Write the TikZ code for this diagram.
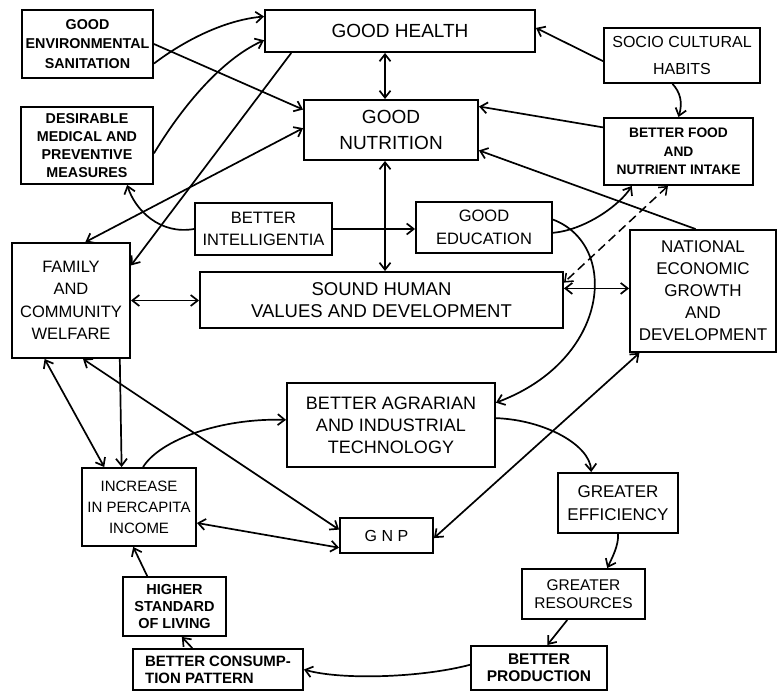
\documentclass[tikz,border=0pt]{standalone}
\usepackage{fontspec}
\setmainfont{Liberation Sans}
\usetikzlibrary{arrows.meta,calc}
\newcommand\fsz[2]{\fontsize{#1}{#2}\selectfont}
\begin{document}
\begin{tikzpicture}[x=1pt,y=-1pt,
  box/.style={draw, line width=1.9pt, inner sep=0pt, align=center},
  link/.style={line width=1.7pt},
  dashlink/.style={line width=1.5pt, dash pattern=on 9pt off 5pt},
  >={Straight Barb[length=7pt,width=11pt]}]
\useasboundingbox (0,0) rectangle (779,692);

% boxes
\node[box,minimum width=131pt,minimum height=68pt,font=\bfseries\fsz{14.3}{19.5}] (env) at (87.5,44) {GOOD\\ENVIRONMENTAL\\SANITATION};
\node[box,minimum width=270pt,minimum height=42pt,font=\fsz{19}{22}] (health) at (400,31) {GOOD HEALTH};
\node[box,minimum width=156pt,minimum height=55pt,font=\fsz{16}{27}] (socio) at (682,55.5) {SOCIO CULTURAL\\HABITS};
\node[box,minimum width=174pt,minimum height=60pt,font=\fsz{19}{26}] (nutr) at (391,130) {GOOD\\NUTRITION};
\node[box,minimum width=149pt,minimum height=67pt,font=\bfseries\fsz{13.8}{18.5}] (food) at (678.5,151.5) {BETTER FOOD\\AND\\NUTRIENT INTAKE};
\node[box,minimum width=132pt,minimum height=77pt,font=\bfseries\fsz{14.3}{18}] (medical) at (87,145.5) {DESIRABLE\\MEDICAL AND\\PREVENTIVE\\MEASURES};
\node[box,minimum width=137pt,minimum height=52pt,font=\fsz{16.5}{22}] (intel) at (263.5,229) {BETTER\\INTELLIGENTIA};
\node[box,minimum width=136pt,minimum height=51pt,font=\fsz{16.5}{23}] (educ) at (484,227.5) {GOOD\\EDUCATION};
\node[box,minimum width=363pt,minimum height=56pt,font=\fsz{18.5}{22}] (sound) at (381.5,300) {SOUND HUMAN\\VALUES AND DEVELOPMENT};
\node[box,minimum width=118pt,minimum height=115pt,font=\fsz{16.5}{22.5}] (family) at (71,300.5) {FAMILY\\AND\\COMMUNITY\\WELFARE};
\node[box,minimum width=146pt,minimum height=122pt,font=\fsz{17}{22}] (national) at (703,291) {NATIONAL\\ECONOMIC\\GROWTH\\AND\\DEVELOPMENT};
\node[box,minimum width=208pt,minimum height=84pt,font=\fsz{18}{22}] (agr) at (391,425) {BETTER AGRARIAN\\AND INDUSTRIAL\\TECHNOLOGY};
\node[box,minimum width=114pt,minimum height=78pt,font=\fsz{15}{21}] (income) at (139,507) {INCREASE\\IN PERCAPITA\\INCOME};
\node[box,minimum width=93pt,minimum height=35pt,font=\fsz{16}{20}] (gnp) at (386.5,535.5) {G N P};
\node[box,minimum width=120pt,minimum height=60pt,font=\fsz{17}{23}] (effic) at (618,503) {GREATER\\EFFICIENCY};
\node[box,minimum width=123pt,minimum height=50pt,font=\fsz{15.5}{17.5}] (res) at (583.5,594) {GREATER\\RESOURCES};
\node[box,minimum width=136pt,minimum height=44pt,font=\bfseries\fsz{15.5}{17}] (prod) at (539,668) {BETTER\\PRODUCTION};
\node[box,minimum width=103pt,minimum height=59pt,font=\bfseries\fsz{14.5}{17}] (std) at (174.5,606.5) {HIGHER\\STANDARD\\OF LIVING};
\node[box,minimum width=170pt,minimum height=41pt,align=left,font=\bfseries\fsz{15}{17}] (cons) at (218,669.5) {BETTER CONSUMP-\\TION PATTERN};

% upper left influences
\draw[link,->] ($(env.north east)!0.78!(env.south east)$) .. controls (185,40) and (225,20) .. ($(health.north west)!0.17!(health.south west)$);
\draw[link,->] (env.east) -- ($(nutr.north west)!0.17!(nutr.south west)$);
\draw[link,->] ($(medical.north east)!0.6!(medical.south east)$) .. controls (180,110) and (220,60) .. ($(health.north west)!0.71!(health.south west)$);
\draw[link,->] ($(health.south west)!0.1!(health.south east)$) -- ($(family.north east)!0.2!(family.south east)$);
\draw[link,<->] ($(family.north west)!0.62!(family.north east)$) -- ($(nutr.north west)!0.47!(nutr.south west)$);
\draw[link,->] (intel.west) .. controls (160,235) and (135,210) .. ($(medical.south west)!0.8!(medical.south east)$);
\draw[link,->] (intel.east) -- (intel.east -| educ.west);

% central vertical axis
\coordinate (vx) at ($(nutr.south west)!0.466!(nutr.south east)$);
\draw[link,<->] (vx |- health.south) -- (vx |- nutr.north);
\draw[link,<->] (vx) -- (vx |- sound.north);

% upper right influences
\draw[link,->] ($(socio.north west)!0.6!(socio.south west)$) -- ($(health.north east)!0.43!(health.south east)$);
\draw[link,->] ($(socio.south west)!0.44!(socio.south east)$) .. controls (680,92) and (683,102) .. (food.north);
\draw[link,->] ($(food.north west)!0.15!(food.south west)$) -- ($(nutr.north east)!0.12!(nutr.south east)$);
\draw[link,->] ($(national.north west)!0.45!(national.north east)$) -- ($(nutr.north east)!0.83!(nutr.south east)$);
\draw[link,->] ($(educ.north east)!0.6!(educ.south east)$) .. controls (585,230) and (620,205) .. ($(food.south west)!0.19!(food.south east)$);
\draw[dashlink,<->] ($(food.south west)!0.43!(food.south east)$) -- ($(sound.north east)!0.2!(sound.south east)$);
\coordinate (sn) at ($(sound.north east)!0.3!(sound.south east)$);
\draw[link,<->] (sn) -- (sn -| national.west);
\draw[link,->] ($(educ.north east)!0.35!(educ.south east)$) .. controls (620,245) and (610,360) .. ($(agr.north east)!0.24!(agr.south east)$);

% family and income links
\draw[link,<->] (family.east) -- (family.east -| sound.west);
\draw[link,<->] ($(family.south west)!0.28!(family.south east)$) -- ($(income.north west)!0.2!(income.north east)$);
\draw[link,->] ($(family.south west)!0.907!(family.south east)$) -- ($(income.north west)!0.35!(income.north east)$);
\draw[link,<->] ($(family.south west)!0.6!(family.south east)$) -- ($(gnp.north west)!0.34!(gnp.south west)$);
\draw[link,->] ($(income.north west)!0.535!(income.north east)$) .. controls (160,440) and (220,418) .. ($(agr.north west)!0.44!(agr.south west)$);
\draw[link,<->] ($(income.north east)!0.7!(income.south east)$) -- ($(gnp.north west)!0.83!(gnp.south west)$);
\draw[link,<->] ($(national.south west)!0.07!(national.south east)$) -- ($(gnp.north east)!0.57!(gnp.south east)$);

% production cycle
\draw[link,->] ($(agr.north east)!0.42!(agr.south east)$) .. controls (545,420) and (590,445) .. ($(effic.north west)!0.28!(effic.north east)$);
\draw[link,->] (effic.south) .. controls (619,545) and (612,558) .. ($(res.north west)!0.69!(res.north east)$);
\draw[link,->] ($(res.south west)!0.37!(res.south east)$) -- ($(prod.north west)!0.56!(prod.north east)$);
\draw[link,->] ($(prod.north west)!0.43!(prod.south west)$) .. controls (420,678) and (340,680) .. (cons.east);
\draw[link,->] ($(cons.north west)!0.35!(cons.north east)$) -- ($(std.south west)!0.57!(std.south east)$);
\draw[link,->] ($(std.north west)!0.24!(std.north east)$) -- ($(income.south west)!0.45!(income.south east)$);
\end{tikzpicture}
\end{document}
